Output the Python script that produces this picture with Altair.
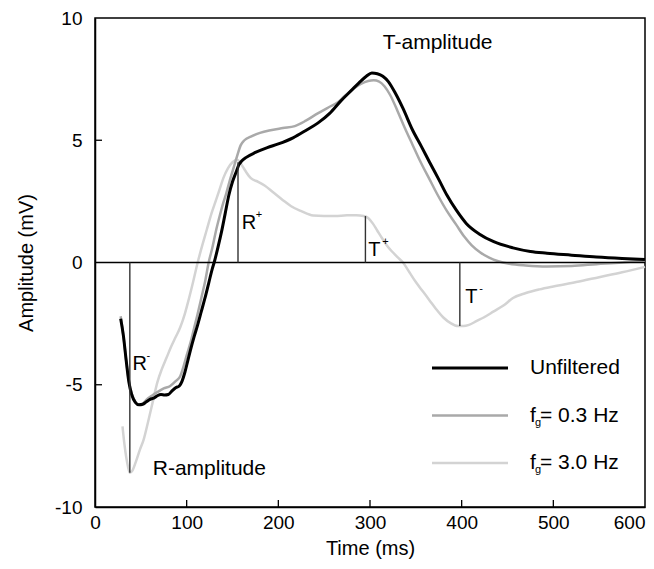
import altair as alt
import pandas as pd

# ---------------- data ----------------
series_names = ["Unfiltered", "f_g= 0.3 Hz", "f_g= 3.0 Hz"]
series_colors = ["#000000", "#a9a9a9", "#d3d3d3"]
series_widths = [3.0, 2.5, 2.5]

t_unf = [28, 31, 34, 37, 40, 44, 48, 52, 56, 60, 64, 68, 72, 76, 80, 84, 88, 92, 95, 98,
         101, 104, 108, 112, 116, 120, 124, 128, 130, 134, 138, 142, 146, 150, 154, 157,
         160, 165, 175, 188, 200, 216, 230, 243, 256, 268, 280, 288, 296, 302, 308, 314,
         320, 328, 336, 346, 356, 365, 375, 384, 394, 405, 420, 435, 456, 475, 493, 520,
         547, 575, 600]
v_unf = [-2.3, -3.0, -4.0, -4.9, -5.4, -5.72, -5.82, -5.8, -5.7, -5.6, -5.55, -5.45, -5.4,
         -5.42, -5.4, -5.25, -5.12, -5.05, -4.85, -4.5, -4.05, -3.6, -3.05, -2.55, -2.0,
         -1.45, -0.85, -0.25, 0.0, 0.6, 1.25, 2.0, 2.75, 3.3, 3.7, 4.0, 4.15, 4.3, 4.5,
         4.7, 4.85, 5.1, 5.4, 5.7, 6.1, 6.6, 7.05, 7.35, 7.62, 7.75, 7.72, 7.62, 7.4, 6.9,
         6.3, 5.45, 4.75, 4.1, 3.4, 2.75, 2.15, 1.6, 1.15, 0.85, 0.6, 0.45, 0.38, 0.3,
         0.22, 0.16, 0.12]

t_03 = [28, 31, 34, 37, 40, 44, 48, 52, 56, 62, 68, 75, 82, 88, 93, 97, 100, 104, 108,
        112, 116, 120, 124, 128, 132, 136, 140, 143, 147, 151, 155, 159, 163, 170, 180,
        190, 205, 218, 230, 243, 255, 265, 272, 280, 290, 298, 304, 310, 316, 322, 330,
        338, 346, 356, 365, 374, 384, 394, 403, 411, 420, 430, 440, 452, 470, 493, 520,
        547, 575, 600]
v_03 = [-2.2, -3.0, -4.0, -4.85, -5.35, -5.7, -5.82, -5.78, -5.62, -5.45, -5.3, -5.15,
        -5.05, -4.85, -4.65, -4.2, -3.8, -3.3, -2.7, -2.1, -1.45, -0.8, 0.0, 0.6, 1.3,
        1.9, 2.45, 2.8, 3.35, 3.85, 4.35, 4.8, 5.0, 5.15, 5.3, 5.4, 5.5, 5.58, 5.8, 6.1,
        6.35, 6.55, 6.8, 7.05, 7.3, 7.42, 7.45, 7.4, 7.2, 6.85, 6.2, 5.5, 4.85, 4.05,
        3.4, 2.75, 2.1, 1.55, 1.05, 0.7, 0.42, 0.2, 0.05, -0.05, -0.12, -0.16, -0.14,
        -0.07, 0.0, 0.08]

t_30 = [30, 32, 34, 36, 38, 41, 45, 49, 53, 58, 63, 68, 73, 78, 83, 88, 93, 98, 102,
        107, 112, 117, 122, 127, 132, 136, 140, 145, 150, 155, 159, 164, 170, 178, 185,
        195, 205, 214, 225, 238, 250, 262, 275, 285, 293, 298, 303, 308, 313, 318, 324,
        330, 336, 343, 350, 358, 365, 372, 380, 388, 396, 402, 408, 416, 424, 435, 446,
        456, 470, 485, 500, 525, 550, 575, 600]
v_30 = [-6.7, -7.4, -7.95, -8.35, -8.6, -8.5, -8.1, -7.65, -7.25, -6.5, -5.7, -4.9,
        -4.35, -3.9, -3.45, -3.05, -2.65, -2.1, -1.55, -0.8, 0.0, 0.7, 1.35, 2.0, 2.55,
        3.0, 3.45, 3.85, 4.1, 4.2, 4.05, 3.75, 3.45, 3.3, 3.15, 2.85, 2.55, 2.3, 2.1,
        1.92, 1.9, 1.9, 1.93, 1.93, 1.9, 1.82, 1.6, 1.3, 1.0, 0.72, 0.45, 0.22, 0.0,
        -0.4, -0.8, -1.2, -1.55, -1.9, -2.25, -2.48, -2.6, -2.6, -2.55, -2.4, -2.25,
        -2.0, -1.75, -1.45, -1.25, -1.1, -0.98, -0.8, -0.6, -0.4, -0.18]

# amplitude markers (vertical lines from 0)
marker_letter = ["R", "R", "T", "T"]
marker_sign = ["-", "+", "+", "-"]
marker_t = [38, 156, 295, 398]
marker_v = [-8.6, 4.1, 1.9, -2.6]
marker_label_t = [41, 160, 298, 404]
marker_label_v = [-4.15, 1.6, 0.5, -1.4]

# free text labels
note_text = ["T-amplitude", "R-amplitude"]
note_t = [314, 63]
note_v = [8.98, -8.43]

x_ticks = [0, 100, 200, 300, 400, 500, 600]
y_ticks = [-10, -5, 0, 5, 10]
x_inner_ticks = [100, 200, 300, 400, 500]
y_inner_ticks = [-5, 5]

# ---------------- chart ----------------
FONT = "Liberation Sans"
W, H = 550, 489

xscale = alt.Scale(domain=[0, 600], nice=False, zero=False)
yscale = alt.Scale(domain=[-10, 10], nice=False, zero=False)

x_axis = alt.Axis(values=x_ticks, title="Time (ms)", ticks=False, grid=False,
                  labelFlush=False, labelOverlap=False, labelBound=False,
                  labelExpr="datum.value + ''",
                  labelAlign=alt.condition("datum.value == 600", alt.value("right"), alt.value("center")),
                  labelPadding=6, titlePadding=6,
                  labelFont=FONT, titleFont=FONT, labelFontSize=19, titleFontSize=20,
                  labelColor="black", titleColor="black", titleFontWeight="normal",
                  domainColor="black", domainWidth=1.5)
y_axis = alt.Axis(values=y_ticks, title="Amplitude (mV)", ticks=False, grid=False,
                  labelPadding=13, titlePadding=18, labelOverlap=False,
                  labelExpr="datum.value + ''",
                  labelFont=FONT, titleFont=FONT, labelFontSize=19, titleFontSize=20,
                  labelColor="black", titleColor="black", titleFontWeight="normal",
                  domainColor="black", domainWidth=1.5)


def X(field):
    return alt.X(field, scale=xscale, axis=x_axis)


def Y(field):
    return alt.Y(field, scale=yscale, axis=y_axis)


series_t = [t_unf, t_03, t_30]
series_v = [v_unf, v_03, v_30]
frames = [pd.DataFrame({"t": t, "v": v, "series": n})
          for n, t, v in zip(series_names, series_t, series_v)]

layers = []

# series lines (lightest first so black is on top)
for i in [2, 1, 0]:
    layers.append(alt.Chart(frames[i]).mark_line(
        color=series_colors[i], strokeWidth=series_widths[i], interpolate="monotone").encode(
        x=X("t:Q"), y=Y("v:Q")))

# zero line
zero_df = pd.DataFrame({"v": [0]})
layers.append(alt.Chart(zero_df).mark_rule(color="black", strokeWidth=1.6).encode(
    y=Y("v:Q")))

# marker vertical lines
mk_df = pd.DataFrame({"t": marker_t, "v": marker_v, "z": [0] * len(marker_t),
                      "lt": marker_label_t, "lv": marker_label_v,
                      "letter": marker_letter, "sign": marker_sign})
layers.append(alt.Chart(mk_df).mark_rule(color="#333333", strokeWidth=1.4).encode(
    x=X("t:Q"), y=Y("z:Q"), y2="v:Q"))

# marker letters + superscript signs
layers.append(alt.Chart(mk_df).mark_text(font=FONT, fontSize=20, align="left",
                                         baseline="middle", color="black").encode(
    x=X("lt:Q"), y=Y("lv:Q"), text="letter:N"))
layers.append(alt.Chart(mk_df).mark_text(font=FONT, fontSize=11, align="left",
                                         baseline="middle", color="black", dx=14, dy=-8).encode(
    x=X("lt:Q"), y=Y("lv:Q"), text="sign:N"))

# free notes
note_df = pd.DataFrame({"t": note_t, "v": note_v, "text": note_text})
layers.append(alt.Chart(note_df).mark_text(font=FONT, fontSize=21, align="left",
                                           baseline="middle", color="black").encode(
    x=X("t:Q"), y=Y("v:Q"), text="text:N"))

# inward ticks
xt_df = pd.DataFrame({"t": x_inner_ticks})
layers.append(alt.Chart(xt_df).mark_rule(color="black", strokeWidth=1.3).encode(
    x=X("t:Q"), y=alt.value(H), y2=alt.value(H - 7)))
yt_df = pd.DataFrame({"v": y_inner_ticks})
layers.append(alt.Chart(yt_df).mark_rule(color="black", strokeWidth=1.3).encode(
    y=Y("v:Q"), x=alt.value(0), x2=alt.value(7)))

# manual legend
LEG_X0, LEG_X1, LEG_TX = 337, 413, 435
for i, name in enumerate(series_names):
    ypix = 350 + 47.5 * i
    ldf = pd.DataFrame({"series": [name]})
    layers.append(alt.Chart(ldf).mark_rule(color=series_colors[i],
                                           strokeWidth=series_widths[i]).encode(
        x=alt.value(LEG_X0), x2=alt.value(LEG_X1), y=alt.value(ypix)))
    if "_" in name:
        head, rest = name.split("_", 1)
        sub, tail = rest[0], rest[1:]
        parts = [(head, 21, 0, 0), (sub, 11, 5, 7), (tail, 21, 10, 0)]
    else:
        parts = [(name, 21, 0, 0)]
    for txt, fs, dx, dy in parts:
        pdf = pd.DataFrame({"label": [txt]})
        layers.append(alt.Chart(pdf).mark_text(font=FONT, fontSize=fs, align="left",
                                               baseline="middle", color="black").encode(
            x=alt.value(LEG_TX + dx), y=alt.value(ypix + dy), text="label:N"))

chart = alt.layer(*layers).properties(
    width=W, height=H,
    background="white",
    autosize=alt.AutoSizeParams(type="none"),
    padding={"left": 87, "top": 10, "right": 1, "bottom": 52},
).configure_view(stroke="black", strokeWidth=1.5)

chart.save("out.html", embed_options={"renderer": "svg", "actions": False})
